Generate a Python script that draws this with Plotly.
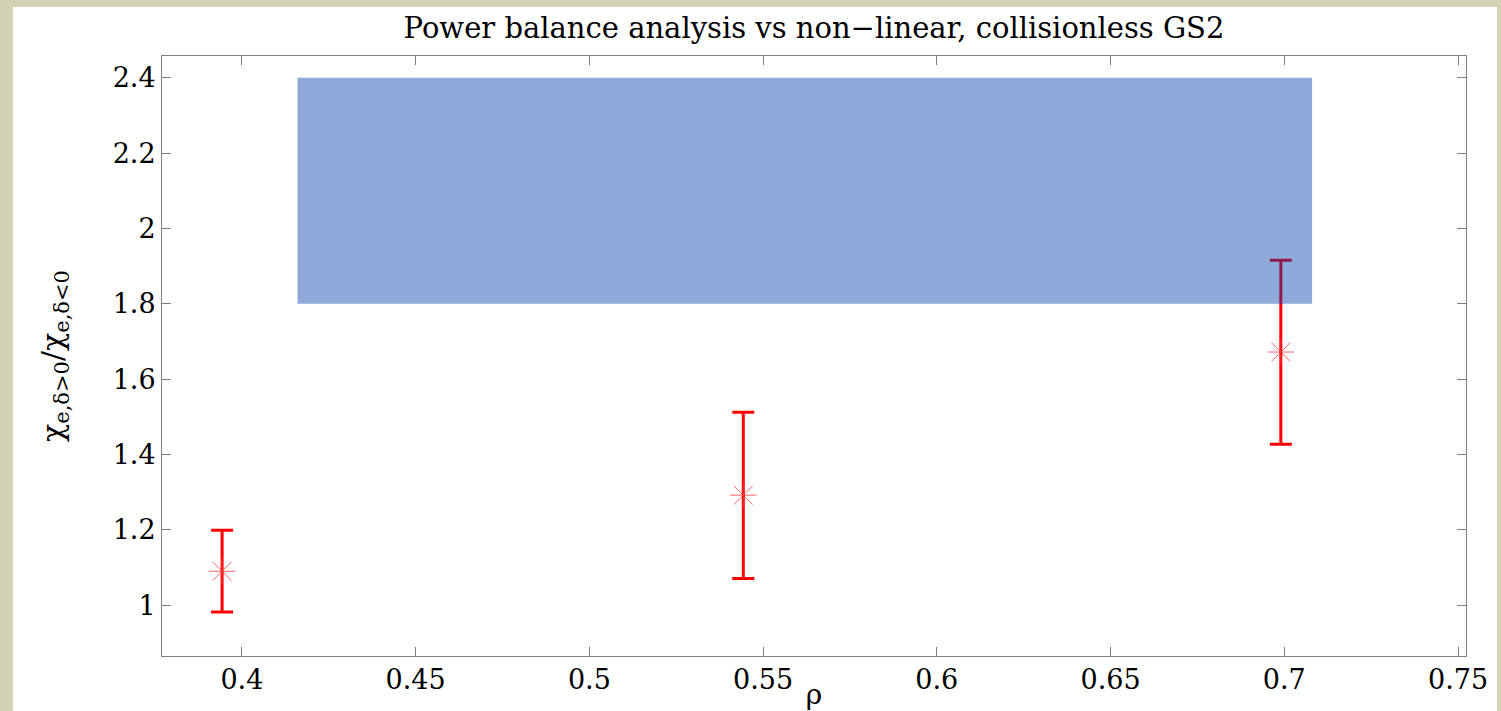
import plotly.graph_objects as go

# Radial positions and measured ratio with asymmetric error bars
rho = [0.3943, 0.5443, 0.6990]
ratio = [1.09, 1.292, 1.672]
err_plus = [0.109, 0.220, 0.244]
err_minus = [0.108, 0.221, 0.245]

# Power-balance range (shaded band)
band_rho = [0.416, 0.708]
band_ratio = [1.8, 2.4]

x_ticks = [0.4, 0.45, 0.5, 0.55, 0.6, 0.65, 0.7, 0.75]
x_tick_text = ["0.4", "0.45", "0.5", "0.55", "0.6", "0.65", "0.7", "0.75"]
y_ticks = [1.0, 1.2, 1.4, 1.6, 1.8, 2.0, 2.2, 2.4]
y_tick_text = ["1", "1.2", "1.4", "1.6", "1.8", "2", "2.2", "2.4"]

FONT = "DejaVu Serif"
AXIS_GREY = "#7f7f7f"

fig = go.Figure()

fig.add_trace(go.Scatter(
    x=rho, y=ratio,
    mode="markers",
    marker=dict(symbol="asterisk-open", size=22,
                color="rgba(255,60,60,0.8)",
                line=dict(color="rgba(255,60,60,0.8)", width=1)),
    error_y=dict(type="data", symmetric=False,
                 array=err_plus, arrayminus=err_minus,
                 color="#ff0000", thickness=3, width=11),
    showlegend=False,
))

# Semi-transparent band drawn over the error bars
fig.add_trace(go.Scatter(
    x=[band_rho[0], band_rho[1], band_rho[1], band_rho[0], band_rho[0]],
    y=[band_ratio[0], band_ratio[0], band_ratio[1], band_ratio[1], band_ratio[0]],
    mode="lines",
    fill="toself",
    fillcolor="rgba(0,62,170,0.44)",
    line=dict(width=0, color="rgba(0,0,0,0)"),
    hoverinfo="skip",
    showlegend=False,
))

W, H = 1501, 711
L, R, T, B = 162, 35, 56, 55
pw, ph = W - L - R, H - T - B

# White page panel on top of the beige background
fig.add_shape(
    type="rect", xref="paper", yref="paper", layer="below",
    x0=(13 - L) / pw, x1=(1497 - L) / pw,
    y0=(H - B - 711) / ph, y1=(H - B - 7) / ph,
    fillcolor="white", line=dict(width=0),
)

axis_common = dict(
    showgrid=False, zeroline=False, automargin=False,
    showline=True, linecolor=AXIS_GREY, linewidth=1, mirror="ticks",
    ticks="inside", ticklen=9, tickcolor=AXIS_GREY, tickwidth=1,
    tickfont=dict(family=FONT, size=27, color="black"),
)

fig.update_xaxes(
    range=[0.377, 0.7523],
    tickvals=x_ticks, ticktext=x_tick_text,
    title=dict(text="ρ", font=dict(family=FONT, size=28, color="black"), standoff=0),
    **axis_common,
)
fig.update_yaxes(
    range=[0.865, 2.458],
    tickvals=y_ticks, ticktext=y_tick_text,
    title=dict(text="χ<sub>e,δ&gt;0</sub>/χ<sub>e,δ&lt;0</sub>",
               font=dict(family=FONT, size=30, color="black"), standoff=40),
    **axis_common,
)

fig.update_layout(
    width=W, height=H, autosize=False,
    margin=dict(l=L, r=R, t=T, b=B),
    paper_bgcolor="#d3d2b5",
    plot_bgcolor="white",
    title=dict(text="Power balance analysis vs non−linear, collisionless GS2",
               font=dict(family=FONT, size=29, color="black"),
               x=(814) / W, xref="container", xanchor="center",
               y=1 - 28 / H, yref="container", yanchor="middle"),
)

fig.write_html("out.html")
